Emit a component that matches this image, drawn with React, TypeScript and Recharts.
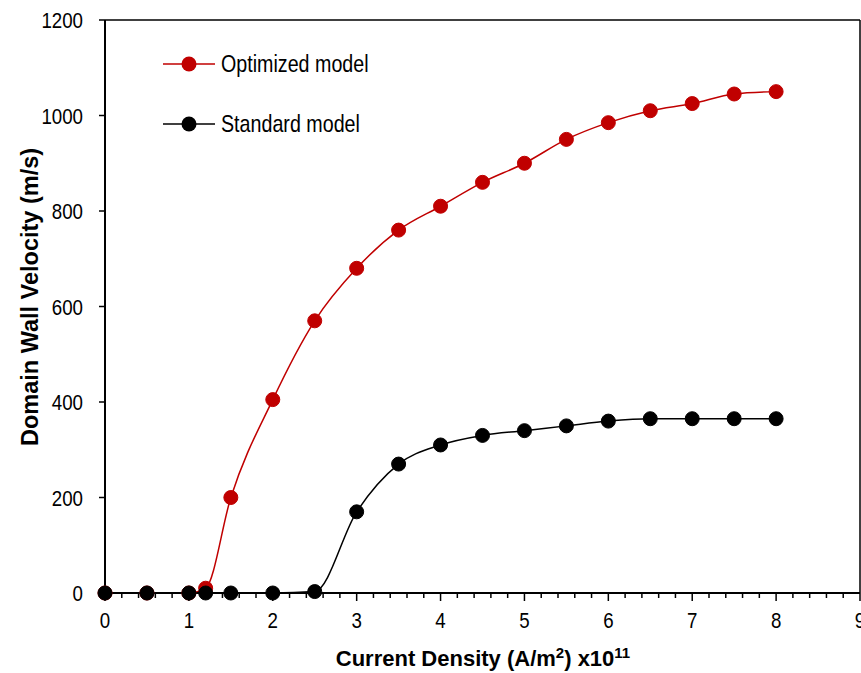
import { LineChart, Line, XAxis, YAxis, ReferenceLine, Legend } from "recharts";

const currentDensity = [0, 0.5, 1, 1.2, 1.5, 2, 2.5, 3, 3.5, 4, 4.5, 5, 5.5, 6, 6.5, 7, 7.5, 8];
const optimizedModel = [0, 0, 0, 10, 200, 405, 570, 680, 760, 810, 860, 900, 950, 985, 1010, 1025, 1045, 1050];
const standardModel = [0, 0, 0, 0, 0, 0, 3, 170, 270, 310, 330, 340, 350, 360, 365, 365, 365, 365];

const yTicks = [0, 200, 400, 600, 800, 1000, 1200];
const xTicks = Array.from({ length: 46 }, (_, i) => Math.round(i * 2) / 10);

const RED = "#C00000";
const FONT = "'Liberation Sans', Arial, sans-serif";

const data = currentDensity.map((x, i) => ({
  x,
  optimized: optimizedModel[i],
  standard: standardModel[i],
}));

const legendItems = [
  { name: "Optimized model", color: RED },
  { name: "Standard model", color: "#000" },
];

// condensed text: the reference uses a narrow face
function NarrowText({ x, y, anchor, size, scale, children }: any) {
  return (
    <g transform={`translate(${x},${y}) scale(${scale},1)`}>
      <text x={0} y={0} textAnchor={anchor} fontSize={size} fontFamily={FONT} fill="#000">
        {children}
      </text>
    </g>
  );
}

function XTick(props: any) {
  const { x, y, payload } = props;
  const v = payload.value as number;
  const major = Math.abs(v - Math.round(v)) < 1e-6;
  return (
    <g>
      <line x1={x} x2={x} y1={y} y2={y + (major ? 8 : 5)} stroke="#000" strokeWidth={1.5} />
      {major && (
        <NarrowText x={x} y={y + 35} anchor="middle" size={22} scale={0.85}>
          {Math.round(v)}
        </NarrowText>
      )}
    </g>
  );
}

function YTick(props: any) {
  const { x, y, payload } = props;
  return (
    <NarrowText x={x} y={y + 8} anchor="end" size={22} scale={0.85}>
      {payload.value}
    </NarrowText>
  );
}

function renderLegend() {
  return (
    <svg width={260} height={100}>
      {legendItems.map((item, i) => {
        const cy = 19 + i * 60;
        return (
          <g key={item.name}>
            <line x1={3} x2={55} y1={cy} y2={cy} stroke={item.color} strokeWidth={1.5} />
            <circle cx={29} cy={cy} r={7.5} fill={item.color} />
            <NarrowText x={61} y={cy + 8} anchor="start" size={24} scale={0.82}>
              {item.name}
            </NarrowText>
          </g>
        );
      })}
    </svg>
  );
}

export default function App() {
  return (
    <div style={{ position: "absolute", left: 0, top: 0, width: 861, height: 673, background: "#fff" }}>
      <LineChart width={861} height={673} data={data} margin={{ top: 20, right: 1, left: 0, bottom: 0 }}>
        <XAxis
          dataKey="x"
          type="number"
          domain={[0, 9]}
          ticks={xTicks}
          interval={0}
          tick={<XTick />}
          tickLine={false}
          tickSize={0}
          tickMargin={0}
          axisLine={{ stroke: "#000", strokeWidth: 2 }}
          height={80}
          label={{
            content: () => (
              <text x={483} y={666} textAnchor="middle" fontSize={22} fontWeight="bold" fontFamily={FONT} fill="#000">
                Current Density (A/m
                <tspan dy={-8} fontSize={15}>2</tspan>
                <tspan dy={8}>) x10</tspan>
                <tspan dy={-8} fontSize={15}>11</tspan>
              </text>
            ),
          }}
        />
        <YAxis
          type="number"
          domain={[0, 1200]}
          ticks={yTicks}
          interval={0}
          tick={<YTick />}
          tickSize={6}
          tickMargin={16}
          tickLine={{ stroke: "#000", strokeWidth: 1.5 }}
          axisLine={{ stroke: "#000", strokeWidth: 2 }}
          width={105}
          label={{
            content: () => (
              <text
                x={38}
                y={297}
                transform="rotate(-90 38 297)"
                textAnchor="middle"
                fontSize={23.5}
                fontWeight="bold"
                fontFamily={FONT}
                fill="#000"
              >
                Domain Wall Velocity (m/s)
              </text>
            ),
          }}
        />
        <ReferenceLine y={1200} stroke="#000" strokeWidth={1.5} />
        <ReferenceLine x={9} stroke="#000" strokeWidth={1.5} />
        <Legend
          content={renderLegend}
          layout="horizontal"
          verticalAlign="middle"
          align="center"
          wrapperStyle={{ top: 45, left: 160, width: 260, height: 100 }}
        />
        <Line
          type="monotone"
          dataKey="optimized"
          stroke={RED}
          strokeWidth={1.5}
          dot={{ r: 7, fill: RED, stroke: RED, strokeWidth: 1 }}
          isAnimationActive={false}
        />
        <Line
          type="monotone"
          dataKey="standard"
          stroke="#000"
          strokeWidth={1.5}
          dot={{ r: 7, fill: "#000", stroke: "#000", strokeWidth: 1 }}
          isAnimationActive={false}
        />
      </LineChart>
    </div>
  );
}
